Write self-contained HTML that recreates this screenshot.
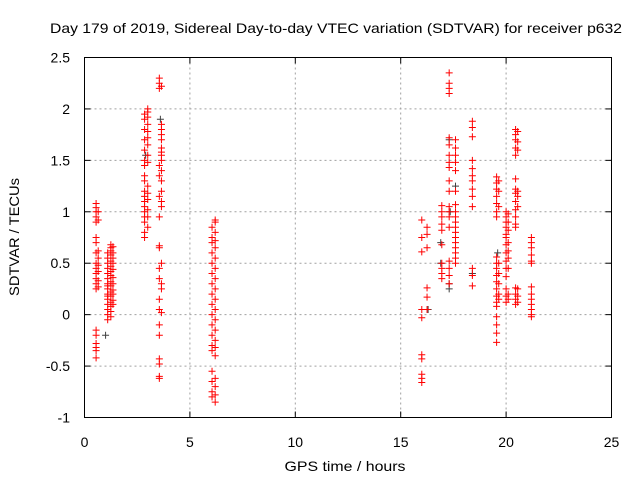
<!DOCTYPE html>
<html><head><meta charset="utf-8"><style>
html,body{margin:0;padding:0;background:#fff}
svg{display:block;font-family:"Liberation Sans",sans-serif}
</style></head><body>
<svg id="chart" width="640" height="480" viewBox="0 0 640 480" xmlns="http://www.w3.org/2000/svg">
<rect width="640" height="480" fill="#fff"/>
<g id="grid"></g>
<g id="ticks"></g>
<g id="darkpts"></g>
<g id="redpts"></g>
<rect x="84.5" y="57.5" width="527" height="360" fill="none" stroke="#000"/>
<text x="336" y="33" font-size="14" text-anchor="middle" textLength="572" lengthAdjust="spacingAndGlyphs">Day 179 of 2019, Sidereal Day-to-day VTEC variation (SDTVAR) for receiver p632</text>
<text x="345" y="471" font-size="14" text-anchor="middle" textLength="121" lengthAdjust="spacingAndGlyphs">GPS time / hours</text>
<text x="0" y="0" font-size="14" text-anchor="middle" textLength="118" lengthAdjust="spacingAndGlyphs" transform="translate(19,237) rotate(-90)">SDTVAR / TECUs</text>
</svg>
<script>
const xTicks=[0,5,10,15,20,25];
const yTicks=[-1,-0.5,0,0.5,1,1.5,2,2.5];
const yTickLabels=["-1","-0.5","0","0.5","1","1.5","2","2.5"];
const colX=[0.55,0.65,1.1,1.25,1.35,2.85,3.0,3.55,3.65,6.05,6.2,16.0,16.25,16.95,17.3,17.6,18.4,19.55,19.65,20.0,20.1,20.45,20.55,21.2];
const colY=[
[1.08,1.04,1.0,0.95,0.9,0.75,0.7,0.6,0.5,0.45,0.4,0.35,0.3,0.25,-0.15,-0.2,-0.28,-0.32,-0.35,-0.42],
[1.0,0.92,0.62,0.55,0.48,0.42,0.33,0.27],
[0.6,0.55,0.5,0.45,0.4,0.35,0.3,0.25,0.2,0.15,0.1,0.05,0.0,-0.05,0.28,0.18],
[0.68,0.65,0.62,0.58,0.52,0.47,0.42,0.38,0.32,0.28,0.22,0.18,0.12,0.08,0.03,-0.02],
[0.66,0.6,0.55,0.5,0.44,0.36,0.3,0.24,0.2,0.14,0.1],
[1.95,1.9,1.8,1.7,1.6,1.5,1.45,1.35,1.3,1.2,1.15,1.1,1.05,1.0,0.95,0.9,0.8,0.75],
[2.0,1.97,1.92,1.85,1.78,1.72,1.65,1.55,1.48,1.25,1.18,1.12,1.02,0.95,0.85],
[2.3,2.25,2.2,1.45,1.35,1.15,0.95,0.67,0.65,0.45,0.35,0.15,0.05,-0.1,-0.2,-0.43,-0.48,-0.6,-0.62],
[2.22,1.85,1.8,1.75,1.7,1.62,1.58,1.55,1.5,1.4,1.3,1.2,1.1,1.05,0.5,0.3,0.25,0.02],
[0.85,0.75,0.7,0.6,0.5,0.4,0.3,0.2,0.1,0.0,-0.1,-0.2,-0.3,-0.35,-0.55,-0.65,-0.75,-0.8],
[0.92,0.9,0.8,0.72,0.65,0.55,0.45,0.35,0.25,0.15,0.05,-0.05,-0.15,-0.25,-0.32,-0.4,-0.62,-0.7,-0.78,-0.85],
[0.92,0.75,0.61,0.05,-0.03,-0.39,-0.43,-0.58,-0.62,-0.66],
[0.85,0.78,0.65,0.26,0.17,0.05],
[1.06,1.0,0.95,0.88,0.82,0.68,0.5,0.45,0.4,0.35],
[2.35,2.25,2.2,2.15,1.72,1.65,1.55,1.48,1.43,1.3,1.2,1.05,1.0,0.95,0.85,0.52,0.45,0.38,0.3],
[1.7,1.62,1.55,1.48,1.4,1.2,1.07,1.0,0.95,0.9,0.85,0.8,0.75,0.7,0.65,0.6,0.55,0.5],
[1.88,1.82,1.73,1.5,1.42,1.35,1.3,1.22,1.15,1.05,0.45,0.38,0.28],
[1.34,1.28,1.22,1.15,1.08,1.0,0.95,0.56,0.5,0.45,0.38,0.32,0.25,0.18,0.12,0.08,-0.02,-0.1,-0.18,-0.27],
[1.3,1.2,1.05,0.5,0.4,0.3,0.2,0.15],
[1.0,0.95,0.9,0.85,0.78,0.75,0.68,0.6,0.52,0.45,0.37,0.25,0.18,0.12],
[0.98,0.9,0.82,0.7,0.62,0.55,0.45,0.2,0.15],
[1.8,1.75,1.7,1.62,1.55,1.32,1.22,1.18,1.1,1.02,0.95,0.88,0.85,0.26,0.2,0.15,0.1],
[1.78,1.68,1.6,1.2,1.15,1.05,0.25,0.18,0.12],
[0.75,0.7,0.65,0.58,0.52,0.5,0.27,0.2,0.15,0.1,0.05,0.0,-0.02]
];
const darkX=[1.0,16.3,17.3,17.3,17.6,18.4,16.9,17.3,3.6,2.9,16.9,17.35,19.6];
const darkY=[-0.2,0.05,0.25,0.3,1.25,0.4,0.7,1.7,1.9,1.55,0.5,1.0,0.6];

const X0=84.5,X1=611.5,Y0=417.5,Y1=57.5;
const xs=v=>X0+(v-0)/(25-0)*(X1-X0);
const ys=v=>Y0-(v+1)/(3.5)*(Y0-Y1);
const NS="http://www.w3.org/2000/svg";
function mk(tag,attrs,parent){const e=document.createElementNS(NS,tag);for(const k in attrs)e.setAttribute(k,attrs[k]);parent.appendChild(e);return e;}
const grid=document.getElementById('grid'),ticks=document.getElementById('ticks');
xTicks.forEach((t,i)=>{
  const x=xs(t);
  if(i>0&&i<xTicks.length-1){const g=mk('line',{x1:x,x2:x,y1:Y1,y2:Y0,stroke:'#a0a0a0','stroke-dasharray':'2,3'},grid);
  
  }
  mk('line',{x1:x,x2:x,y1:Y0,y2:Y0-6,stroke:'#000'},ticks);
  mk('line',{x1:x,x2:x,y1:Y1,y2:Y1+6,stroke:'#000'},ticks);
  const tx=mk('text',{x:x,y:447,'font-size':14,'text-anchor':'middle'},ticks);tx.textContent=String(t);
  
  
});
yTicks.forEach((t,i)=>{
  const y=ys(t);
  if(i>0&&i<yTicks.length-1){const g=mk('line',{x1:X0,x2:X1,y1:y,y2:y,stroke:'#a0a0a0','stroke-dasharray':'2,3'},grid);
  
  }
  mk('line',{x1:X0,x2:X0+6,y1:y,y2:y,stroke:'#000'},ticks);
  mk('line',{x1:X1,x2:X1-6,y1:y,y2:y,stroke:'#000'},ticks);
  const tx=mk('text',{x:70,y:y+5,'font-size':14,'text-anchor':'end'},ticks);tx.textContent=yTickLabels[i];
  
  
});
function plus(px,py,color,parent){
  const p=mk('path',{d:`M${px-3.5},${py}h7M${px},${py-3.5}v7`,stroke:color,'stroke-width':1,fill:'none'},parent);
  return p;
}
const dk=document.getElementById('darkpts');
darkX.forEach((x,i)=>{const p=plus(xs(x),ys(darkY[i]),'#404040',dk);
  
  });
const rd=document.getElementById('redpts');
colX.forEach((x,i)=>{colY[i].forEach(v=>{const p=plus(xs(x),ys(v),'#ff0000',rd);
  
  });});
</script>
</body></html>
